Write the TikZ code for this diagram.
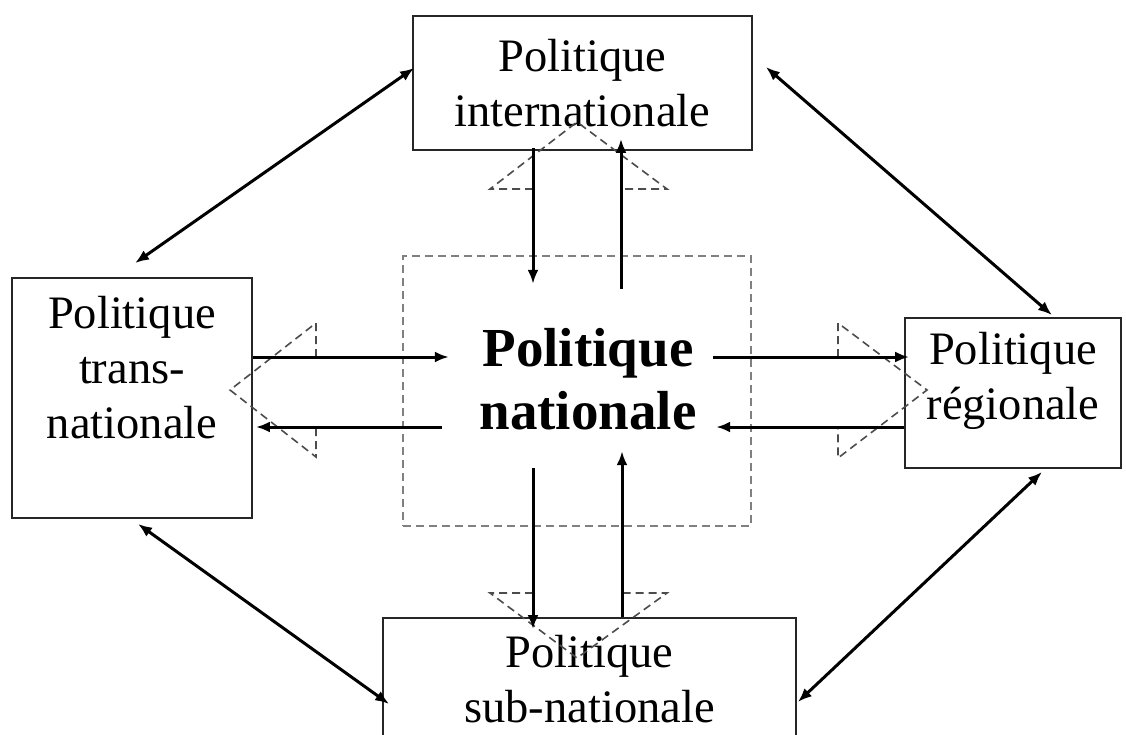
\documentclass[tikz,border=0pt]{standalone}
\usepackage{fontspec}
\setmainfont{Liberation Serif}
\usetikzlibrary{arrows.meta,positioning,calc}

\begin{document}
\begin{tikzpicture}[
    x=1pt, y=-1pt,
    >={Latex[length=14pt,width=11pt]},
    box/.style={draw=black!85,line width=1.8pt,fill=white,inner sep=0pt,
                align=center,font=\fontsize{46.5}{55}\selectfont},
    txt/.style={align=center,inner sep=0pt,font=\fontsize{46.5}{55}\selectfont},
    coreframe/.style={draw=black!50,line width=2.4pt,dash pattern=on 8pt off 5pt,
                      inner sep=0pt},
    tri/.style={draw=black!70,line width=1.6pt,dash pattern=on 8pt off 5pt},
    flow/.style={->,line width=3pt},
    link/.style={<->,line width=3pt}
  ]
    \useasboundingbox (0,0) rectangle (1126,735);

    \node[coreframe, minimum width=348pt, minimum height=270pt] (core) at (577,391) {};
    \node[txt, font=\fontsize{55}{63}\selectfont\bfseries] (nat) at (588,379) {Politique\\nationale};

    \node[box, minimum width=339pt, minimum height=134pt] (intl) at (582.5,83) {Politique\\internationale};
    \node[box, minimum width=240pt, minimum height=240pt] (trans) at (132,398) {};
    \node[txt] (transtxt) at ([yshift=30pt]trans) {Politique\\trans-\\nationale};
    \node[box, minimum width=216pt, minimum height=150pt] (reg) at (1013,393) {};
    \node[txt] (regtxt) at ([yshift=12pt]reg) {Politique\\régionale};
    \node[box, minimum width=413pt, minimum height=122pt] (subnat) at (589.5,679) {Politique\\sub-nationale};

    \draw[tri] (533,189) -- (490,189) -- (577,122) -- (667,189) -- (622,189);
    \draw[tri] (533,593) -- (490,593) -- (577,658) -- (667,593) -- (622,593);
    \draw[tri] (316,357) -- (316,323) -- (230,390) -- (316,457) -- (316,427);
    \draw[tri] (838,357) -- (838,323) -- (927,390) -- (838,458) -- (838,427);

    \draw[flow] ([xshift=-49.5pt,yshift=3pt]intl.south) -- ([xshift=-44pt,yshift=-29pt]core.north);
    \draw[flow] ([xshift=44pt,yshift=-34pt]core.north) -- ([xshift=38.5pt,yshift=12pt]intl.south);
    \draw[flow] ([yshift=41pt]trans.east) -- ([xshift=47pt,yshift=34pt]core.west);
    \draw[flow] ([xshift=40pt,yshift=-36pt]core.west) -- ([xshift=3pt,yshift=-29pt]trans.east);
    \draw[flow] ([xshift=-39pt,yshift=34pt]core.east) -- ([xshift=5pt,yshift=36pt]reg.west);
    \draw[flow] ([yshift=-34pt]reg.west) -- ([xshift=-36pt,yshift=-36pt]core.east);
    \draw[flow] ([xshift=-44pt,yshift=59pt]core.south) -- ([xshift=-56.5pt,yshift=-12pt]subnat.north);
    \draw[flow] ([xshift=32.5pt]subnat.north) -- ([xshift=45pt,yshift=76pt]core.south);

    \draw[link] ([xshift=2pt,yshift=15pt]intl.west) -- ([xshift=3pt,yshift=14pt]trans.north);
    \draw[link] ([xshift=13pt,yshift=16pt]intl.east) -- ([xshift=39pt,yshift=2pt]reg.north);
    \draw[link] ([xshift=6pt,yshift=-5pt]trans.south) -- ([xshift=7pt,yshift=-25pt]subnat.west);
    \draw[link] ([xshift=29pt,yshift=-3pt]reg.south) -- ([xshift=1pt,yshift=-23pt]subnat.east);
  \end{tikzpicture}
\end{document}
